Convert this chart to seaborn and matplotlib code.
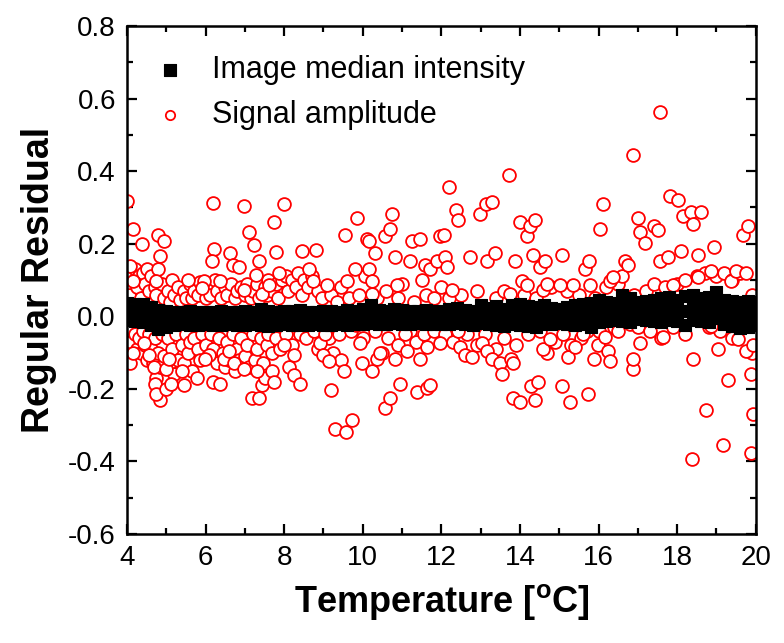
import numpy as np
import pandas as pd
import matplotlib
matplotlib.use("Agg")
import matplotlib.pyplot as plt
from matplotlib.ticker import MultipleLocator
import seaborn as sns

# image median intensity residuals (three rows of the dense black band)
band_temp = [4.0, 4.2, 4.4, 4.6, 4.8, 5.0, 5.2, 5.4, 5.6, 5.8,
             6.0, 6.2, 6.4, 6.6, 6.8, 7.0, 7.2, 7.4, 7.6, 7.8,
             8.0, 8.2, 8.4, 8.6, 8.8, 9.0, 9.2, 9.4, 9.6, 9.8,
             10.0, 10.2, 10.4, 10.6, 10.8, 11.0, 11.2, 11.4, 11.6, 11.8,
             12.0, 12.2, 12.4, 12.6, 12.8, 13.0, 13.2, 13.4, 13.6, 13.8,
             14.0, 14.2, 14.4, 14.6, 14.8, 15.0, 15.2, 15.4, 15.6, 15.8,
             16.0, 16.2, 16.4, 16.6, 16.8, 17.0, 17.2, 17.4, 17.6, 17.8,
             18.0, 18.2, 18.4, 18.6, 18.8, 19.0, 19.2, 19.4, 19.6, 19.8, 20.0]
band_hi = [0.037, 0.035, 0.033, 0.025, 0.018, 0.015, 0.013, 0.012, 0.014, 0.013,
           0.013, 0.012, 0.015, 0.013, 0.012, 0.016, 0.013, 0.020, 0.014, 0.013,
           0.015, 0.014, 0.018, 0.013, 0.012, 0.016, 0.014, 0.013, 0.017, 0.015,
           0.020, 0.031, 0.018, 0.016, 0.020, 0.017, 0.015, 0.014, 0.018, 0.016,
           0.015, 0.020, 0.024, 0.018, 0.016, 0.030, 0.022, 0.028, 0.020, 0.030,
           0.033, 0.028, 0.025, 0.030, 0.022, 0.020, 0.026, 0.030, 0.034, 0.038,
           0.045, 0.040, 0.038, 0.060, 0.050, 0.040, 0.042, 0.045, 0.050, 0.052,
           0.045, 0.055, 0.060, 0.050, 0.052, 0.068, 0.045, 0.043, 0.040, 0.042, 0.040]
band_mid = [0.013, 0.012, 0.009, 0.000, -0.008, -0.007, -0.005, -0.005, -0.004, -0.005,
            -0.004, -0.006, -0.004, -0.004, -0.006, -0.003, -0.004, -0.002, -0.006, -0.005,
            -0.003, -0.005, -0.002, -0.006, -0.005, -0.004, -0.004, -0.004, -0.003, -0.003,
            0.000, 0.006, -0.001, -0.003, 0.000, -0.001, -0.003, -0.002, -0.001, -0.002,
            -0.002, 0.000, 0.002, -0.002, -0.004, 0.006, 0.001, 0.002, -0.003, 0.004,
            0.004, 0.000, -0.002, 0.004, 0.001, 0.001, 0.003, 0.002, 0.006, 0.004,
            0.015, 0.014, 0.014, 0.023, 0.017, 0.016, 0.016, 0.016, 0.017, 0.021,
            0.016, 0.015, 0.025, 0.019, 0.018, 0.031, 0.012, 0.007, 0.004, 0.006, 0.007]
band_lo = [-0.010, -0.012, -0.015, -0.025, -0.035, -0.030, -0.024, -0.022, -0.023, -0.024,
           -0.022, -0.024, -0.023, -0.021, -0.025, -0.023, -0.022, -0.024, -0.026, -0.023,
           -0.022, -0.024, -0.023, -0.025, -0.022, -0.024, -0.023, -0.021, -0.024, -0.022,
           -0.020, -0.018, -0.021, -0.022, -0.019, -0.020, -0.022, -0.018, -0.021, -0.020,
           -0.020, -0.021, -0.019, -0.022, -0.025, -0.018, -0.020, -0.024, -0.027, -0.022,
           -0.024, -0.028, -0.030, -0.022, -0.020, -0.018, -0.020, -0.025, -0.022, -0.030,
           -0.015, -0.012, -0.010, -0.014, -0.016, -0.008, -0.010, -0.012, -0.015, -0.010,
           -0.012, -0.025, -0.010, -0.012, -0.015, -0.005, -0.020, -0.028, -0.032, -0.030, -0.025]

# signal amplitude residuals (temperature, residual)
signal_far = [
    (4.0, 0.319), (4.15, 0.242), (4.37, 0.20), (4.08, 0.14), (4.15, 0.096), (4.08, -0.13),
    (4.15, -0.10), (4.8, 0.225), (4.94, 0.208), (4.85, 0.165), (4.8, 0.13), (4.73, 0.096),
    (4.7, -0.186), (4.85, -0.23), (4.73, -0.214), (5.0, -0.20), (5.13, -0.186), (4.56, -0.107),
    (4.69, -0.14), (4.43, -0.073), (5.0, -0.146), (5.07, -0.118), (5.45, -0.19), (5.39, -0.15),
    (5.56, 0.10), (5.96, 0.096), (5.9, 0.079), (5.77, -0.169), (6.09, -0.107), (5.99, -0.118),
    (6.19, 0.312), (6.22, 0.186), (6.16, 0.152), (6.37, 0.096), (6.19, -0.18), (6.37, -0.186),
    (6.47, -0.118), (6.63, 0.175), (6.7, 0.141), (6.86, 0.135), (6.98, 0.304), (6.73, -0.13),
    (6.6, -0.096), (6.98, -0.146), (7.11, 0.231), (7.24, 0.197), (7.37, 0.152), (7.27, 0.113),
    (6.98, 0.073), (7.18, -0.225), (7.37, -0.225), (7.43, -0.19), (7.5, -0.169), (7.3, -0.152),
    (7.69, -0.152), (7.75, -0.18), (7.43, 0.062), (7.62, 0.085), (7.75, 0.259), (8.0, 0.31),
    (7.78, 0.177), (7.88, 0.118), (8.0, -0.079), (8.13, -0.141), (8.26, -0.163), (8.39, -0.186),
    (8.26, -0.107), (8.45, 0.18), (8.8, 0.184), (8.64, 0.13), (8.74, 0.096), (9.09, 0.085),
    (8.9, -0.073), (9.0, -0.107), (9.13, -0.124), (9.03, -0.05), (9.18, -0.203), (9.3, -0.31),
    (9.56, -0.319), (9.73, -0.287), (9.51, -0.152), (9.54, 0.225), (9.6, 0.096), (9.79, 0.13),
    (9.85, 0.27), (9.82, -0.023), (9.92, -0.073), (9.98, -0.13), (10.11, 0.214), (10.17, 0.208),
    (10.17, 0.13), (10.24, 0.096), (10.24, 0.062), (10.24, -0.152), (10.37, -0.118), (10.43, -0.10),
    (10.3, 0.175), (10.56, -0.254), (10.68, -0.225), (10.56, 0.22), (10.68, 0.242), (10.75, 0.282),
    (10.81, 0.163), (10.88, 0.085), (10.94, -0.186), (10.81, -0.118), (11.07, -0.05), (11.13, -0.096),
    (11.19, 0.152), (11.26, 0.208), (11.45, 0.214), (11.39, -0.208), (11.45, -0.118), (11.51, 0.101),
    (11.58, 0.141), (11.71, 0.13), (11.64, -0.197), (11.71, -0.19), (11.64, -0.085), (11.96, 0.22),
    (12.06, 0.225), (11.9, 0.152), (12.08, 0.163), (12.15, 0.135), (11.96, -0.073), (12.19, 0.357),
    (12.28, 0.073), (12.37, 0.293), (12.41, 0.265), (12.41, -0.04), (12.47, -0.085), (12.6, -0.107),
    (12.72, 0.163), (12.79, -0.113), (12.98, 0.282), (13.13, 0.31), (13.3, 0.316), (13.17, 0.152),
    (13.36, 0.175), (13.04, -0.073), (13.17, -0.096), (13.3, -0.118), (13.49, -0.13), (13.55, -0.158),
    (13.71, 0.389), (13.74, 0.062), (13.77, -0.118), (13.81, -0.13), (13.81, -0.225), (14.0, -0.237),
    (13.87, 0.152), (14.0, 0.259), (14.19, 0.22), (14.26, 0.248), (14.39, 0.265), (14.06, 0.096),
    (14.19, 0.085), (14.32, 0.169), (14.39, -0.231), (14.29, -0.192), (14.45, -0.18), (14.51, 0.135),
    (14.58, 0.073), (14.64, 0.152), (14.58, -0.09), (14.7, 0.09), (14.77, -0.062), (15.02, 0.085),
    (15.08, 0.169), (15.08, -0.192), (15.21, -0.113), (15.28, -0.237), (15.35, 0.085), (15.4, -0.085),
    (15.6, -0.05), (15.66, 0.13), (15.76, 0.152), (15.72, -0.214), (15.79, 0.085), (15.89, -0.118),
    (15.98, -0.079), (16.04, 0.242), (16.1, 0.31), (16.17, -0.056), (16.24, -0.096), (16.3, 0.096),
    (16.36, 0.107), (16.3, -0.124), (16.49, -0.04), (16.68, 0.152), (16.75, 0.141), (16.87, 0.445),
    (16.87, -0.146), (16.87, -0.118), (17.0, 0.27), (17.06, 0.231), (17.19, 0.203), (17.06, -0.073),
    (17.4, 0.248), (17.5, 0.237), (17.57, 0.563), (17.57, 0.152), (17.64, -0.056), (17.76, 0.163),
    (17.83, 0.332), (18.02, 0.321), (17.89, 0.085), (18.09, 0.18), (18.15, 0.276), (18.35, 0.287),
    (18.41, 0.254), (18.54, 0.169), (18.6, 0.287), (18.41, -0.118), (18.37, -0.394), (18.73, -0.259),
    (18.54, 0.107), (18.86, 0.124), (18.93, 0.191), (18.86, -0.028), (19.05, -0.09), (19.17, -0.355),
    (19.3, -0.175), (19.36, 0.096), (19.49, 0.124), (19.55, -0.062), (19.68, 0.225), (19.74, 0.118),
    (19.81, 0.248), (19.74, -0.096), (19.87, -0.158), (19.87, -0.377), (19.94, -0.27), (19.94, -0.079),
]
signal_near_up = [
    (4.05, 0.06), (4.1, 0.12), (4.2, 0.13), (4.25, 0.08), (4.3, 0.11), (4.35, 0.05), (4.4, 0.12),
    (4.45, 0.09), (4.5, 0.13), (4.55, 0.07), (4.6, 0.11), (4.65, 0.04), (4.7, 0.08), (4.75, 0.06),
    (4.9, 0.09), (4.95, 0.05), (5.05, 0.07), (5.1, 0.04), (5.15, 0.1), (5.2, 0.06), (5.3, 0.08),
    (5.35, 0.045), (5.45, 0.07), (5.5, 0.05), (5.6, 0.09), (5.65, 0.05), (5.7, 0.07), (5.8, 0.06),
    (5.85, 0.095), (6.0, 0.05), (6.05, 0.08), (6.1, 0.06), (6.25, 0.1), (6.3, 0.07), (6.4, 0.05),
    (6.5, 0.08), (6.55, 0.06), (6.65, 0.09), (6.75, 0.05), (6.8, 0.07), (6.9, 0.08), (7.0, 0.06),
    (7.05, 0.09), (7.15, 0.05), (7.2, 0.07), (7.3, 0.09), (7.35, 0.05), (7.5, 0.08), (7.55, 0.06),
    (7.6, 0.1), (7.7, 0.07), (7.8, 0.09), (7.85, 0.05), (7.95, 0.1), (8.05, 0.11), (8.1, 0.07),
    (8.2, 0.1), (8.3, 0.08), (8.35, 0.12), (8.45, 0.06), (8.5, 0.1), (8.6, 0.08), (8.7, 0.11),
    (8.85, 0.07), (8.95, 0.05), (9.2, 0.06), (9.35, 0.04), (9.45, 0.08), (9.65, 0.05), (9.9, 0.06),
    (10.05, 0.11), (10.35, 0.05), (10.6, 0.07), (10.9, 0.05), (11.0, 0.09), (11.3, 0.04), (11.6, 0.06),
    (11.8, 0.05), (12.0, 0.08), (12.2, 0.05), (12.5, 0.06), (12.9, 0.07), (13.4, 0.05), (13.6, 0.07),
    (14.1, 0.06), (14.4, 0.05), (14.8, 0.08), (15.2, 0.07), (15.5, 0.06), (15.9, 0.05), (16.2, 0.08),
    (16.5, 0.09), (16.6, 0.11), (16.9, 0.06), (17.2, 0.07), (17.4, 0.09), (17.7, 0.08), (18.0, 0.09),
    (18.2, 0.1), (18.5, 0.11), (18.7, 0.12), (19.0, 0.11), (19.2, 0.12), (19.4, 0.1), (19.6, 0.12),
    (19.9, 0.06),
]
signal_near_lo = [
    (4.05, -0.04), (4.1, -0.07), (4.2, -0.05), (4.25, -0.09), (4.3, -0.06), (4.35, -0.1), (4.4, -0.04),
    (4.45, -0.08), (4.5, -0.12), (4.55, -0.05), (4.6, -0.09), (4.65, -0.13), (4.7, -0.06), (4.75, -0.17),
    (4.8, -0.1), (4.85, -0.14), (4.9, -0.05), (4.95, -0.11), (5.05, -0.06), (5.1, -0.13), (5.15, -0.09),
    (5.2, -0.16), (5.25, -0.05), (5.3, -0.12), (5.4, -0.08), (5.45, -0.13), (5.5, -0.05), (5.55, -0.1),
    (5.6, -0.07), (5.65, -0.15), (5.7, -0.06), (5.8, -0.09), (5.85, -0.12), (5.9, -0.05), (6.0, -0.08),
    (6.05, -0.11), (6.15, -0.05), (6.2, -0.09), (6.3, -0.13), (6.35, -0.06), (6.45, -0.1), (6.5, -0.14),
    (6.55, -0.07), (6.6, -0.12), (6.7, -0.05), (6.75, -0.15), (6.8, -0.09), (6.85, -0.12), (6.9, -0.06),
    (7.0, -0.11), (7.05, -0.08), (7.1, -0.14), (7.2, -0.05), (7.25, -0.12), (7.3, -0.09), (7.4, -0.06),
    (7.45, -0.13), (7.55, -0.08), (7.6, -0.05), (7.7, -0.1), (7.8, -0.06), (7.9, -0.09), (8.05, -0.05),
    (8.2, -0.08), (8.4, -0.05), (8.55, -0.06), (8.75, -0.04), (8.85, -0.09), (9.15, -0.06), (9.25, -0.1),
    (9.4, -0.05), (9.45, -0.12), (9.7, -0.04), (10.0, -0.06), (10.3, -0.04), (10.5, -0.1), (10.65, -0.06),
    (10.9, -0.08), (11.2, -0.04), (11.35, -0.07), (11.55, -0.05), (11.8, -0.04), (12.1, -0.05), (12.3, -0.07),
    (12.65, -0.05), (12.9, -0.08), (13.1, -0.05), (13.4, -0.09), (13.6, -0.06), (13.9, -0.08), (14.2, -0.05),
    (14.5, -0.04), (14.7, -0.1), (14.9, -0.07), (15.1, -0.05), (15.3, -0.08), (15.55, -0.06), (15.7, -0.04),
    (16.0, -0.04), (16.4, -0.03), (16.8, -0.02), (17.0, -0.03), (17.3, -0.04), (17.6, -0.06), (17.9, -0.03),
    (18.2, -0.05), (18.8, -0.03), (19.1, -0.04), (19.4, -0.06), (19.6, -0.02), (19.9, -0.1),
]

band = pd.DataFrame({
    "temp": band_temp * 3,
    "resid": band_hi + band_mid + band_lo,
})
signal = pd.DataFrame(signal_near_up + signal_near_lo + signal_far, columns=["temp", "resid"])

sns.set_style("ticks")
plt.rcParams["font.family"] = ["Liberation Sans", "DejaVu Sans"]
plt.rcParams.update({"text.color": "black", "axes.labelcolor": "black",
                     "xtick.color": "black", "ytick.color": "black",
                     "axes.edgecolor": "black"})

fig = plt.figure(figsize=(7.84, 6.43), dpi=100)
ax = fig.add_axes([0.162, 0.1695, 0.802, 0.790])

sns.scatterplot(data=signal, x="temp", y="resid", ax=ax, marker="o", s=85,
                facecolor="white", edgecolor="#ff0000", linewidth=1.3,
                label="Signal amplitude")
sns.scatterplot(data=band, x="temp", y="resid", ax=ax, marker="s", s=80,
                color="black", edgecolor="black", linewidth=0.8,
                label="Image median intensity")
ax.collections[0].set_zorder(2)
ax.collections[1].set_zorder(3)

ax.set_xlim(4, 20)
ax.set_ylim(-0.6, 0.8)
ax.xaxis.set_major_locator(MultipleLocator(2))
ax.xaxis.set_minor_locator(MultipleLocator(1))
ax.yaxis.set_minor_locator(MultipleLocator(0.1))
ax.set_yticks([-0.6, -0.4, -0.2, 0.0, 0.2, 0.4, 0.6, 0.8])
ax.set_yticklabels(["-0.6", "-0.4", "-0.2", "0.0", "0.2", "0.4", "0.6", "0.8"])
ax.tick_params(which="both", direction="in", top=True, right=True, width=1.6,
               labelsize=20, pad=8)
ax.tick_params(which="major", length=7)
ax.tick_params(which="minor", length=4)
for sp in ax.spines.values():
    sp.set_visible(True)
    sp.set_linewidth(1.8)
    sp.set_color("black")

ax.set_xlabel("Temperature [$^\\mathregular{o}$C]", fontsize=26, fontweight="bold", labelpad=8)
ax.set_ylabel("Regular Residual", fontsize=27, fontweight="bold", labelpad=8)

handles, labels = ax.get_legend_handles_labels()
leg = ax.legend(handles[::-1], labels[::-1], loc="upper left", bbox_to_anchor=(0.001, 0.997),
                frameon=False, fontsize=22, handletextpad=0.85, labelspacing=0.5,
                handlelength=1.0)
leg.legend_handles[0].set_sizes([85])
leg.legend_handles[1].set_sizes([45])

fig.savefig("out.png", dpi=100)
